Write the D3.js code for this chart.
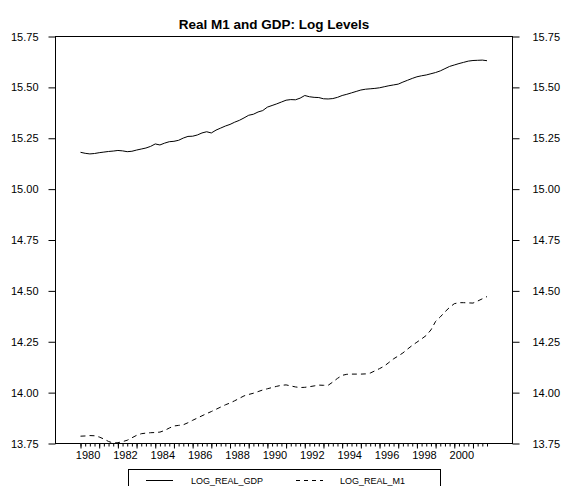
<!DOCTYPE html>
<html>
<head>
<meta charset="utf-8">
<script src="https://cdn.jsdelivr.net/npm/d3@7"></script>
<style>
  body { margin: 0; background: #fff; }
  svg { display: block; font-family: "Liberation Sans", Arial, sans-serif; }
</style>
</head>
<body>
<script>
const w = 561;
const h = 486;
const frame = { left: 55.5, right: 512.5, top: 36.5, bottom: 443.5 };

// quarterly observations, 1980Q1 .. 2001Q4
const startYear = 1980;
const yearLabels = [1980, 1982, 1984, 1986, 1988, 1990, 1992, 1994, 1996, 1998, 2000];
const yTicks = [13.75, 14.0, 14.25, 14.5, 14.75, 15.0, 15.25, 15.5, 15.75];

const logRealGdp = [
  15.181, 15.176, 15.173, 15.175, 15.179, 15.182, 15.185, 15.187,
  15.190, 15.188, 15.184, 15.186, 15.192, 15.197, 15.202, 15.210,
  15.222, 15.217, 15.226, 15.233, 15.235, 15.240, 15.251, 15.259,
  15.260, 15.266, 15.276, 15.282, 15.276, 15.290, 15.300, 15.310,
  15.318, 15.329, 15.338, 15.350, 15.363, 15.368, 15.379, 15.386,
  15.403, 15.411, 15.419, 15.428, 15.437, 15.440, 15.439, 15.447,
  15.460, 15.454, 15.451, 15.450, 15.444, 15.443, 15.445, 15.451,
  15.460, 15.466, 15.473, 15.480, 15.487, 15.491, 15.493, 15.495,
  15.498, 15.503, 15.508, 15.512, 15.516, 15.526, 15.535, 15.544,
  15.552, 15.557, 15.561, 15.567, 15.573, 15.581, 15.592, 15.603,
  15.610, 15.617, 15.623, 15.629, 15.632, 15.633, 15.634, 15.631
];

const logRealM1 = [
  13.786, 13.787, 13.789, 13.788, 13.782, 13.772, 13.760, 13.752,
  13.754, 13.759, 13.766, 13.778, 13.790, 13.798, 13.801, 13.803,
  13.804, 13.806, 13.814, 13.826, 13.836, 13.839, 13.842, 13.852,
  13.864, 13.875, 13.886, 13.897, 13.907, 13.918, 13.929, 13.940,
  13.949, 13.960, 13.972, 13.984, 13.991, 13.997, 14.005, 14.013,
  14.019, 14.025, 14.031, 14.036, 14.038, 14.033, 14.028, 14.025,
  14.026, 14.029, 14.033, 14.037, 14.036, 14.036, 14.052, 14.070,
  14.085, 14.090, 14.091, 14.091, 14.091, 14.092, 14.096, 14.107,
  14.118, 14.130, 14.148, 14.166, 14.180, 14.195, 14.214, 14.232,
  14.248, 14.264, 14.281, 14.308, 14.350, 14.372, 14.397, 14.419,
  14.437, 14.442, 14.442, 14.441, 14.440, 14.450, 14.461, 14.472
];

const n = logRealGdp.length;

const svg = d3.select("body").append("svg")
  .attr("width", w)
  .attr("height", h);

// scales: x runs over quarter index, obs sit 25px inside the frame
const x = d3.scaleLinear()
  .domain([0, n - 1])
  .range([80.5, 487]);

const y = d3.scaleLinear()
  .domain([13.75, 15.75])
  .range([frame.bottom, frame.top]);

// title
svg.append("text")
  .attr("x", 274)
  .attr("y", 29)
  .attr("text-anchor", "middle")
  .style("font-size", "13.5px")
  .style("font-weight", "bold")
  .text("Real M1 and GDP: Log Levels");

// y axes, both sides
const yLeft = d3.axisLeft(y).tickValues(yTicks).tickFormat(d3.format(".2f"))
  .tickSize(7).tickSizeOuter(0).tickPadding(10);
const yRight = d3.axisRight(y).tickValues(yTicks).tickFormat(d3.format(".2f"))
  .tickSize(7).tickSizeOuter(0).tickPadding(13);

svg.append("g")
  .attr("transform", `translate(${frame.left},0)`)
  .call(yLeft);
svg.append("g")
  .attr("transform", `translate(${frame.right},0)`)
  .call(yRight);

// x axis: quarter ticks, year ticks, then labels mid-year
const xMinor = d3.axisBottom(x).tickValues(d3.range(n)).tickFormat("")
  .tickSize(3).tickSizeOuter(0);
const xMajor = d3.axisBottom(x).tickValues(d3.range(0, n, 4)).tickFormat("")
  .tickSize(5).tickSizeOuter(0);
const xLabels = d3.axisBottom(x)
  .tickValues(yearLabels.map((yr) => (yr - startYear) * 4 + 1.5))
  .tickFormat((d) => startYear + Math.floor(d / 4))
  .tickSize(0).tickPadding(8);

[xMinor, xMajor, xLabels].forEach((ax) => {
  svg.append("g")
    .attr("transform", `translate(0,${frame.bottom})`)
    .call(ax);
});

svg.selectAll(".domain").remove();
svg.selectAll(".tick text")
  .style("font-size", "11px")
  .style("font-family", "'Liberation Sans', Arial, sans-serif")
  .attr("fill", "#000");
svg.selectAll(".tick line").attr("stroke", "#000");

// frame
svg.append("rect")
  .attr("x", frame.left)
  .attr("y", frame.top)
  .attr("width", frame.right - frame.left)
  .attr("height", frame.bottom - frame.top)
  .attr("fill", "none")
  .attr("stroke", "#000");

// lines
const line = d3.line()
  .x((d, i) => x(i))
  .y((d) => y(d));

svg.append("path")
  .datum(logRealGdp)
  .attr("fill", "none")
  .attr("stroke", "#000")
  .attr("stroke-width", 1)
  .attr("d", line);

svg.append("path")
  .datum(logRealM1)
  .attr("fill", "none")
  .attr("stroke", "#000")
  .attr("stroke-width", 1)
  .attr("stroke-dasharray", "5,4")
  .attr("d", line);

// legend
const legend = svg.append("g");
legend.append("rect")
  .attr("x", 128.5)
  .attr("y", 469.5)
  .attr("width", 312)
  .attr("height", 30)
  .attr("fill", "none")
  .attr("stroke", "#000");

const items = [
  { label: "LOG_REAL_GDP", dash: null, x0: 146, tx: 191 },
  { label: "LOG_REAL_M1", dash: "4,4", x0: 296, tx: 340 }
];
items.forEach((it) => {
  legend.append("line")
    .attr("x1", it.x0).attr("x2", it.x0 + 27)
    .attr("y1", 480.5).attr("y2", 480.5)
    .attr("stroke", "#000")
    .attr("stroke-dasharray", it.dash);
  legend.append("text")
    .attr("x", it.tx)
    .attr("y", 484)
    .style("font-size", "9px")
    .text(it.label);
});
</script>
</body>
</html>
